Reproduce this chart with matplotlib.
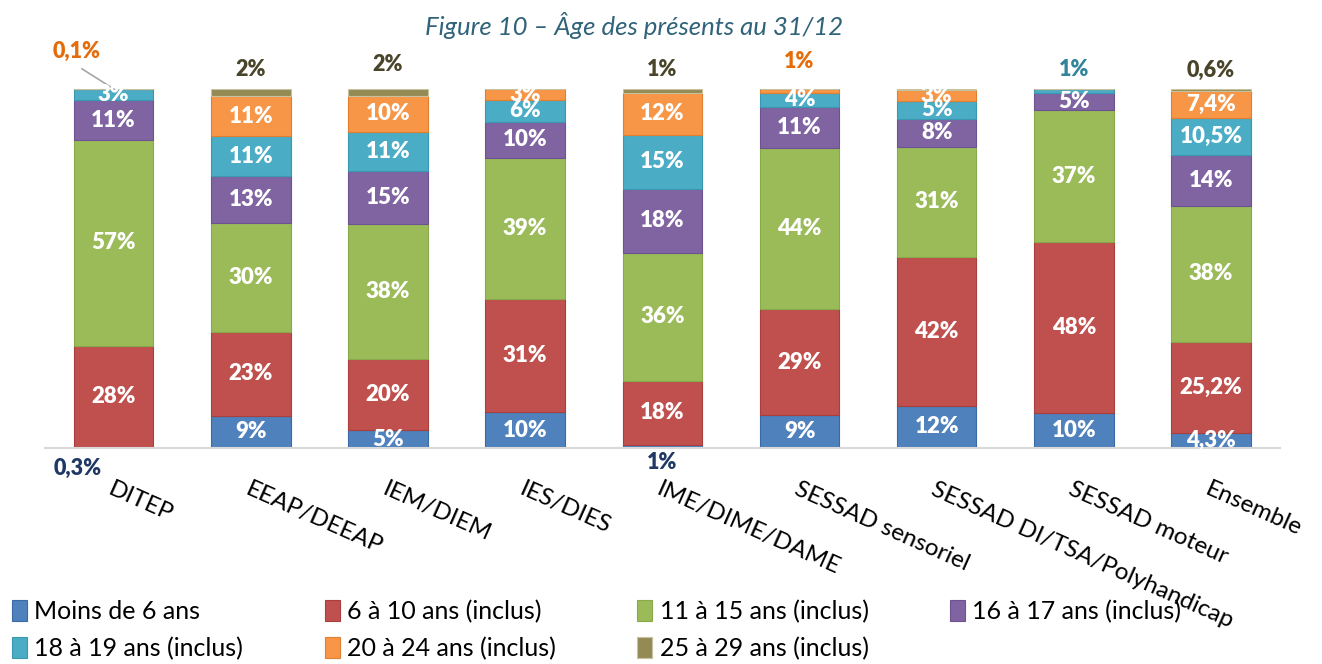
import matplotlib.pyplot as plt
import numpy as np

plt.rcParams['font.family'] = ['Lato', 'DejaVu Sans']

categories = ["DITEP", "EEAP/DEEAP", "IEM/DIEM", "IES/DIES", "IME/DIME/DAME",
              "SESSAD sensoriel", "SESSAD DI/TSA/Polyhandicap", "SESSAD moteur", "Ensemble"]
series = ["Moins de 6 ans", "6 à 10 ans (inclus)", "11 à 15 ans (inclus)", "16 à 17 ans (inclus)",
          "18 à 19 ans (inclus)", "20 à 24 ans (inclus)", "25 à 29 ans (inclus)"]

moins6 = [0.3, 9, 5, 10, 1, 9, 12, 10, 4.3]
ans6_10 = [28, 23, 20, 31, 18, 29, 42, 48, 25.2]
ans11_15 = [57, 30, 38, 39, 36, 44, 31, 37, 38]
ans16_17 = [11, 13, 15, 10, 18, 11, 8, 5, 14]
ans18_19 = [3, 11, 11, 6, 15, 4, 5, 1, 10.5]
ans20_24 = [0.1, 11, 10, 3, 12, 1, 3, 0, 7.4]
ans25_29 = [0, 2, 2, 0, 1, 0, 0.4, 0, 0.6]

colors = ["#4f81bd", "#c0504d", "#9bbb59", "#8064a2", "#4bacc6", "#f79646", "#948a54"]
edges = ["#3a6aa5", "#a83f3c", "#88a94a", "#6c5290", "#3a98b2", "#e07f30", "#c9c2a0"]
out_colors = ["#1f3864", "#c0504d", "#9bbb59", "#8064a2", "#31849b", "#e46c0a", "#4a452a"]

data = np.array([moins6, ans6_10, ans11_15, ans16_17, ans18_19, ans20_24, ans25_29], dtype=float)
scaled = data / data.sum(axis=0) * 100


def fmt(v):
    if abs(v - round(v)) < 1e-9:
        return "%d%%" % round(v)
    return ("%.1f%%" % v).replace(".", ",")


# labels drawn outside the bar: (bar, series) -> (x offset, y position)
outside = {
    (0, 5): (-0.27, 110.5),
    (0, 0): (-0.26, -5.6),
    (1, 6): (0, 105.5),
    (2, 6): (0, 106.8),
    (4, 6): (0, 105.5),
    (4, 0): (0, -3.9),
    (5, 5): (0, 107.6),
    (7, 4): (0, 105.3),
    (8, 6): (0, 105.3),
}

fig = plt.figure(figsize=(13.22, 6.64), dpi=100)
ax = fig.add_axes([0.034, 0.325, 0.934, 0.541])

x = np.arange(len(categories))
bottom = np.zeros(len(categories))
handles = []
for i, name in enumerate(series):
    h = ax.bar(x, scaled[i], 0.58, bottom=bottom, color=colors[i], edgecolor=edges[i],
               linewidth=0.8, label=name)
    handles.append(h)
    for j in range(len(categories)):
        v = data[i, j]
        if v <= 0:
            continue
        if (j, i) in outside:
            dx, yy = outside[(j, i)]
            ax.text(j + dx, yy, fmt(v), ha='center', va='center', fontsize=15.5,
                    fontweight='heavy', color=out_colors[i], clip_on=False)
        elif v >= 2:
            ax.text(j, bottom[j] + scaled[i, j] / 2, fmt(v), ha='center', va='center',
                    fontsize=16, fontweight='heavy', color='white')
    bottom += scaled[i]

# leader line for DITEP 0,1%
ax.plot([-0.23, 0.01], [105.6, 99.8], color='#a6a6a6', lw=1.2, clip_on=False)

ax.set_xlim(-0.5, 8.5)
ax.set_ylim(0, 100)
ax.set_yticks([])
ax.set_xticks(x)
ax.set_xticklabels(categories, rotation=-24, ha='left', rotation_mode='anchor',
                   fontsize=17.5)
ax.tick_params(axis='x', length=0, pad=22)
for s in ['top', 'right', 'left']:
    ax.spines[s].set_visible(False)
ax.spines['bottom'].set_color('#d9d9d9')
ax.spines['bottom'].set_linewidth(1.5)

fig.text(0.48, 0.962, "Figure 10 – Âge des présents au 31/12", ha='center', va='center',
         fontsize=18.5, style='italic', color='#31637a')

# legend filled row by row
order = [0, 4, 1, 5, 2, 6, 3]
fig.legend([handles[k] for k in order], [series[k] for k in order],
           loc='lower left', bbox_to_anchor=(-0.008, -0.028), ncol=4, frameon=False,
           fontsize=18, handlelength=0.6, handleheight=0.9, handletextpad=0.3,
           columnspacing=3.25, labelspacing=0.55)

fig.savefig("out.png", dpi=100)
